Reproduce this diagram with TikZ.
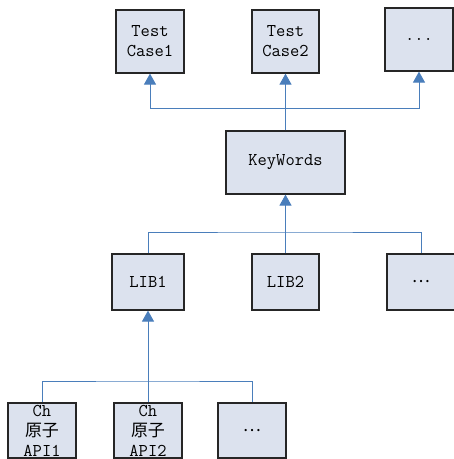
\documentclass[tikz,border=0pt]{standalone}
\usepackage{fontspec}
\newfontfamily\cjk{Noto Sans CJK SC}
\usetikzlibrary{arrows.meta}
\definecolor{boxfill}{HTML}{DCE2EE}
\definecolor{linkblue}{HTML}{4A7EBB}
\begin{document}
\begin{tikzpicture}[x=1pt,y=-1pt,
  box/.style={draw=black!85,line width=1.2pt,fill=boxfill,rectangle,inner sep=0pt,align=center,
    font=\ttfamily\fontsize{18}{20}\selectfont},
  conn/.style={draw=linkblue,line width=1pt},
  arr/.style={conn,-{Triangle[width=12pt,length=11pt]}}]
\useasboundingbox (0,0) rectangle (454,459);
% top row
\node[box,minimum width=68pt,minimum height=63pt] (tc1) at (150,41.5) {Test\\Case1};
\node[box,minimum width=67pt,minimum height=63pt] (tc2) at (285.5,41.5) {Test\\Case2};
\node[box,minimum width=68pt,minimum height=63pt] (tc3) at (419,39.5) {...};
% keywords
\node[box,minimum width=119pt,minimum height=63pt] (kw) at (285.5,162.5) {KeyWords};
% libs
\node[box,minimum width=72pt,minimum height=56pt] (lib1) at (148,282) {LIB1};
\node[box,minimum width=67pt,minimum height=56pt] (lib2) at (285.5,282) {LIB2};
\node[box,minimum width=68pt,minimum height=56pt] (lib3) at (421,282) {\cjk\fontsize{17}{20}\selectfont …};
% apis
\node[box,minimum width=68pt,minimum height=55pt] (api1) at (42,430.5) {Ch\\{\cjk\fontsize{17}{20}\selectfont 原子}\\API1};
\node[box,minimum width=68pt,minimum height=55pt] (api2) at (148,430.5) {Ch\\{\cjk\fontsize{17}{20}\selectfont 原子}\\API2};
\node[box,minimum width=68pt,minimum height=55pt] (api3) at (252,430.5) {\cjk\fontsize{17}{20}\selectfont …};
% junctions
\coordinate (j1) at (285.5,108);
\coordinate (j2) at (285.5,232);
\coordinate (j3) at (148,381);
% connectors top
\draw[arr] (kw.north) -- (tc2.south);
\draw[arr] (j1) -| (tc1.south);
\draw[arr] (j1) -| (tc3.south);
% connectors middle
\draw[arr] (lib2.north) -- (kw.south);
\draw[conn] (lib1.north) |- (j2) -| (lib3.north);
% connectors bottom
\draw[arr] (api2.north) -- (lib1.south);
\draw[conn] (api1.north) |- (j3) -| (api3.north);
\end{tikzpicture}
\end{document}
